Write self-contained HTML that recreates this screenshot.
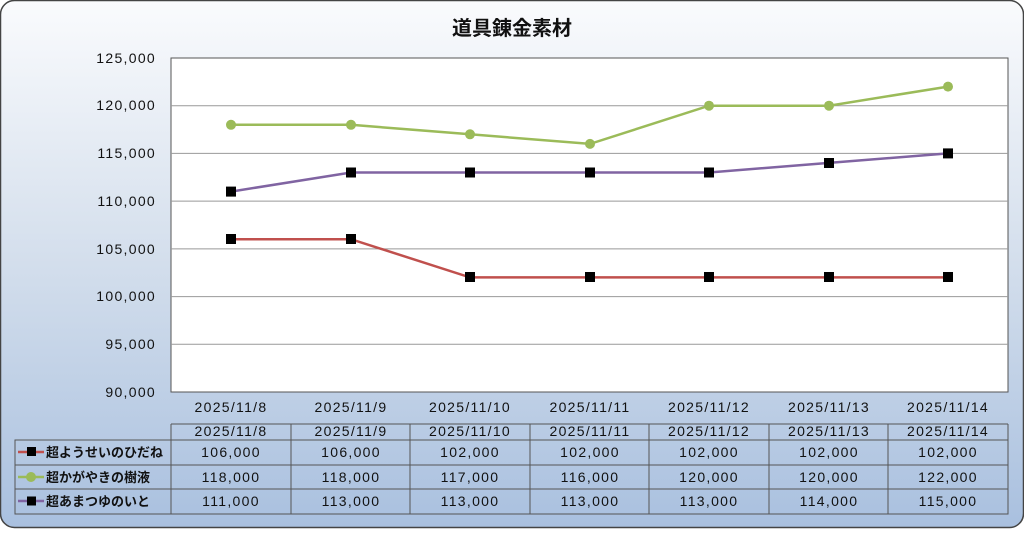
<!DOCTYPE html>
<html><head><meta charset="utf-8"><style>
body{margin:0;width:1024px;height:529px;overflow:hidden;background:#fff}
text{font-family:"Liberation Sans","Noto Sans CJK JP",sans-serif}
</style></head><body>
<svg width="1024" height="529" xmlns="http://www.w3.org/2000/svg">
<defs><linearGradient id="g" x1="0" y1="0" x2="0" y2="1">
<stop offset="0" stop-color="#fafbfd"/><stop offset="0.5" stop-color="#d3deec"/><stop offset="1" stop-color="#a9c0df"/></linearGradient></defs>
<rect x="0.5" y="0.5" width="1023" height="527" rx="14" fill="url(#g)" stroke="#444" stroke-width="1.5"/>
<text x="512" y="35" text-anchor="middle" font-size="20" font-weight="bold" fill="#111">道具錬金素材</text>
<rect x="171" y="58" width="837" height="334" fill="#fff" stroke="#555"/>
<g stroke="#999" stroke-width="1">
<line x1="171" x2="1008" y1="105.7" y2="105.7"/><line x1="171" x2="1008" y1="153.4" y2="153.4"/>
<line x1="171" x2="1008" y1="201.1" y2="201.1"/><line x1="171" x2="1008" y1="248.9" y2="248.9"/>
<line x1="171" x2="1008" y1="296.6" y2="296.6"/><line x1="171" x2="1008" y1="344.3" y2="344.3"/>
</g>
<g font-size="14" fill="#111" text-anchor="end" letter-spacing="1.3">
<text x="156" y="63">125,000</text><text x="156" y="110">120,000</text><text x="156" y="158">115,000</text>
<text x="156" y="206">110,000</text><text x="156" y="254">105,000</text><text x="156" y="301">100,000</text>
<text x="156" y="349">95,000</text><text x="156" y="397">90,000</text>
</g>
<g font-size="14" fill="#111" text-anchor="middle" letter-spacing="1.3">
<text x="231" y="412">2025/11/8</text><text x="351" y="412">2025/11/9</text><text x="470" y="412">2025/11/10</text>
<text x="590" y="412">2025/11/11</text><text x="709" y="412">2025/11/12</text><text x="829" y="412">2025/11/13</text><text x="948" y="412">2025/11/14</text>
</g>
<polyline fill="none" stroke="#c0504d" stroke-width="2.5" points="231,239.2 351,239.2 470,277.4 590,277.4 709,277.4 829,277.4 948,277.4"/>
<polyline fill="none" stroke="#9bbb59" stroke-width="2.5" points="231,124.8 351,124.8 470,134.3 590,143.9 709,105.7 829,105.7 948,86.6"/>
<polyline fill="none" stroke="#8064a2" stroke-width="2.5" points="231,191.6 351,172.5 470,172.5 590,172.5 709,172.5 829,162.9 948,153.4"/>
<g fill="#000">
<rect x="226" y="234" width="10" height="10"/><rect x="346" y="234" width="10" height="10"/><rect x="465" y="272" width="10" height="10"/><rect x="585" y="272" width="10" height="10"/><rect x="704" y="272" width="10" height="10"/><rect x="824" y="272" width="10" height="10"/><rect x="943" y="272" width="10" height="10"/>
<rect x="226" y="186.6" width="10" height="10"/><rect x="346" y="167.5" width="10" height="10"/><rect x="465" y="167.5" width="10" height="10"/><rect x="585" y="167.5" width="10" height="10"/><rect x="704" y="167.5" width="10" height="10"/><rect x="824" y="158" width="10" height="10"/><rect x="943" y="148.4" width="10" height="10"/>
</g>
<g fill="#9bbb59">
<circle cx="231" cy="124.8" r="5"/><circle cx="351" cy="124.8" r="5"/><circle cx="470" cy="134.3" r="5"/><circle cx="590" cy="143.9" r="5"/><circle cx="709" cy="105.7" r="5"/><circle cx="829" cy="105.7" r="5"/><circle cx="948" cy="86.6" r="5"/>
</g>
<g stroke="#555" fill="none" stroke-width="1">
<rect x="15" y="440" width="993" height="74"/>
<line x1="171" y1="424" x2="1008" y2="424"/>
<line x1="171" y1="424" x2="171" y2="514"/><line x1="1008" y1="424" x2="1008" y2="440"/>
<line x1="291" y1="424" x2="291" y2="514"/><line x1="410" y1="424" x2="410" y2="514"/><line x1="530" y1="424" x2="530" y2="514"/>
<line x1="649" y1="424" x2="649" y2="514"/><line x1="769" y1="424" x2="769" y2="514"/><line x1="888" y1="424" x2="888" y2="514"/>
<line x1="15" y1="465" x2="1008" y2="465"/><line x1="15" y1="489" x2="1008" y2="489"/>
</g>
<g font-size="14" fill="#111" text-anchor="middle" letter-spacing="1.3">
<text x="231" y="436">2025/11/8</text><text x="351" y="436">2025/11/9</text><text x="470" y="436">2025/11/10</text>
<text x="590" y="436">2025/11/11</text><text x="709" y="436">2025/11/12</text><text x="829" y="436">2025/11/13</text><text x="948" y="436">2025/11/14</text>
<text x="231" y="457">106,000</text><text x="351" y="457">106,000</text><text x="470" y="457">102,000</text><text x="590" y="457">102,000</text><text x="709" y="457">102,000</text><text x="829" y="457">102,000</text><text x="948" y="457">102,000</text>
<text x="231" y="482">118,000</text><text x="351" y="482">118,000</text><text x="470" y="482">117,000</text><text x="590" y="482">116,000</text><text x="709" y="482">120,000</text><text x="829" y="482">120,000</text><text x="948" y="482">122,000</text>
<text x="231" y="506">111,000</text><text x="351" y="506">113,000</text><text x="470" y="506">113,000</text><text x="590" y="506">113,000</text><text x="709" y="506">113,000</text><text x="829" y="506">114,000</text><text x="948" y="506">115,000</text>
</g>
<line x1="18" y1="452" x2="44" y2="452" stroke="#c0504d" stroke-width="2.5"/><rect x="27" y="447" width="9" height="9" fill="#000"/>
<line x1="18" y1="477" x2="44" y2="477" stroke="#9bbb59" stroke-width="2.5"/><circle cx="31" cy="477" r="5" fill="#9bbb59"/>
<line x1="18" y1="501" x2="44" y2="501" stroke="#8064a2" stroke-width="2.5"/><rect x="27" y="496.5" width="9" height="9" fill="#000"/>
<g font-size="13" fill="#111" font-weight="bold">
<text x="46" y="457">超ようせいのひだね</text><text x="46" y="482">超かがやきの樹液</text><text x="46" y="506">超あまつゆのいと</text>
</g>
</svg>
</body></html>
